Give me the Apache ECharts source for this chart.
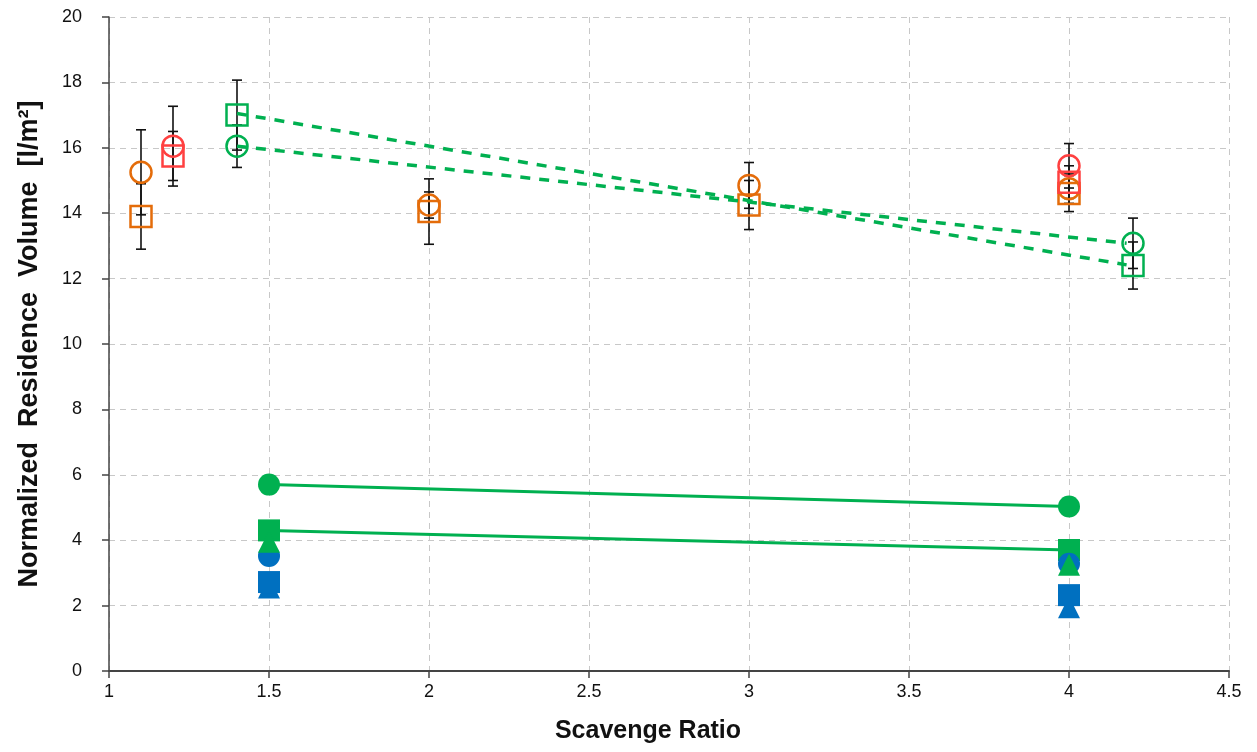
<!DOCTYPE html>
<html>
<head>
<meta charset="utf-8">
<script src="https://cdn.jsdelivr.net/npm/echarts@6/dist/echarts.min.js"></script>
<style>html,body{margin:0;padding:0;background:#fff;}#c{width:1257px;height:752px;}</style>
</head>
<body>
<div id="c"></div>
<script>
// ---- Data ----
// Hollow markers with error bars (x, y, +/- error)
const orangeCircleX = [1.1, 2, 3, 4];
const orangeCircleY = [15.25, 14.25, 14.85, 14.75];
const orangeCircleErr = [1.3, 0.4, 0.7, 0.45];

const orangeSquareX = [1.1, 2, 3, 4];
const orangeSquareY = [13.9, 14.05, 14.25, 14.6];
const orangeSquareErr = [1.0, 1.0, 0.75, 0.55];

const redCircleX = [1.2, 4];
const redCircleY = [16.05, 15.45];
const redCircleErr = [1.22, 0.68];

const redSquareX = [1.2, 4];
const redSquareY = [15.75, 14.95];
const redSquareErr = [0.75, 0.5];

const greenHollowCircleX = [1.4, 4.2];
const greenHollowCircleY = [16.05, 13.08];
const greenHollowCircleErr = [0.65, 0.77];

const greenHollowSquareX = [1.4, 4.2];
const greenHollowSquareY = [17.0, 12.4];
const greenHollowSquareErr = [1.07, 0.72];

// Dashed trend lines
const trendCircle = [[1.4, 16.05], [4.18, 13.08]];
const trendSquare = [[1.4, 17.05], [4.18, 12.42]];

// Filled markers
const filledX = [1.5, 4];
const greenCircleY = [5.7, 5.03];
const greenSquareY = [4.3, 3.7];
const greenTriangleY = [3.95, 3.25];
const blueCircleY = [3.52, 3.28];
const blueSquareY = [2.72, 2.32];
const blueTriangleY = [2.55, 1.95];

// Axis
const xMin = 1, xMax = 4.5, xStep = 0.5;
const yMin = 0, yMax = 20, yStep = 2;

// ---- Colors ----
const ORANGE = '#E46C0A';
const RED = '#FF4040';
const GREEN = '#00B050';
const BLUE = '#0070C0';

const pts = (xs, ys) => xs.map((x, i) => [x, ys[i]]);

function errSeries(xs, ys, errs) {
  return {
    type: 'custom',
    z: 2,
    silent: true,
    data: xs.map((x, i) => [x, ys[i] - errs[i], ys[i] + errs[i]]),
    encode: { x: 0, y: [1, 2] },
    renderItem: function (params, api) {
      const lo = api.coord([api.value(0), api.value(1)]);
      const hi = api.coord([api.value(0), api.value(2)]);
      const w = 5;
      const st = { stroke: '#111', lineWidth: 1.6 };
      return {
        type: 'group',
        children: [
          { type: 'line', shape: { x1: lo[0], y1: lo[1], x2: hi[0], y2: hi[1] }, style: st },
          { type: 'line', shape: { x1: lo[0] - w, y1: lo[1], x2: lo[0] + w, y2: lo[1] }, style: st },
          { type: 'line', shape: { x1: hi[0] - w, y1: hi[1], x2: hi[0] + w, y2: hi[1] }, style: st }
        ]
      };
    }
  };
}

function hollow(name, xs, ys, symbol, color, size) {
  return {
    name: name, type: 'scatter', z: 3, symbol: symbol, symbolSize: size,
    data: pts(xs, ys),
    itemStyle: { color: 'rgba(0,0,0,0)', borderColor: color, borderWidth: 2.5, opacity: 1 }
  };
}

function filled(name, ys, symbol, color, size, z) {
  return {
    name: name, type: 'scatter', z: z, symbol: symbol, symbolSize: size,
    data: pts(filledX, ys),
    itemStyle: { color: color, opacity: 1 }
  };
}

function line(name, data, color, dashed, z) {
  return {
    name: name, type: 'line', z: z, symbol: 'none', silent: true,
    data: data,
    lineStyle: { color: color, width: dashed ? 3.5 : 3, type: dashed ? [10, 9] : 'solid', opacity: 1 }
  };
}

const chart = echarts.init(document.getElementById('c'), null, { renderer: 'canvas' });

const series = [
  errSeries(orangeCircleX, orangeCircleY, orangeCircleErr),
  errSeries(orangeSquareX, orangeSquareY, orangeSquareErr),
  errSeries(redCircleX, redCircleY, redCircleErr),
  errSeries(redSquareX, redSquareY, redSquareErr),
  errSeries(greenHollowCircleX, greenHollowCircleY, greenHollowCircleErr),
  errSeries(greenHollowSquareX, greenHollowSquareY, greenHollowSquareErr),
  line('Trend circle', trendCircle, GREEN, true, 4),
  line('Trend square', trendSquare, GREEN, true, 4),
  hollow('Orange circle', orangeCircleX, orangeCircleY, 'circle', ORANGE, 21),
  hollow('Orange square', orangeSquareX, orangeSquareY, 'rect', ORANGE, 21),
  hollow('Red circle', redCircleX, redCircleY, 'circle', RED, 21),
  hollow('Red square', redSquareX, redSquareY, 'rect', RED, 21),
  hollow('Green circle (hollow)', greenHollowCircleX, greenHollowCircleY, 'circle', GREEN, 21),
  hollow('Green square (hollow)', greenHollowSquareX, greenHollowSquareY, 'rect', GREEN, 21),
  line('Green circle line', pts(filledX, greenCircleY), GREEN, false, 3),
  line('Green square line', pts(filledX, greenSquareY), GREEN, false, 3),
  filled('Blue triangle', blueTriangleY, 'triangle', BLUE, 22, 5),
  filled('Blue square', blueSquareY, 'rect', BLUE, 22, 6),
  filled('Green square', greenSquareY, 'rect', GREEN, 22, 7),
  filled('Blue circle', blueCircleY, 'circle', BLUE, 22, 8),
  filled('Green triangle', greenTriangleY, 'triangle', GREEN, 22, 9),
  filled('Green circle', greenCircleY, 'circle', GREEN, 22, 10)
];

const FONT = '"Liberation Sans", Arial, sans-serif';

chart.setOption({
  animation: false,
  backgroundColor: '#ffffff',
  grid: { left: 109, right: 28, top: 17, bottom: 81, containLabel: false },
  xAxis: {
    type: 'value', min: xMin, max: xMax, interval: xStep,
    name: 'Scavenge Ratio', nameLocation: 'middle', nameGap: 48,
    nameTextStyle: { fontFamily: FONT, fontWeight: 'bold', fontSize: 25, color: '#111', padding: [0, 42, 0, 0] },
    axisLine: { onZero: false, lineStyle: { color: '#444', width: 2 } },
    axisTick: { show: true, inside: false, length: 7, lineStyle: { color: '#444', width: 1.5 } },
    axisLabel: { margin: 12, fontFamily: FONT, fontSize: 18, color: '#111' },
    splitLine: { show: true, lineStyle: { color: '#c8c8c8', width: 1, type: [6, 5] } }
  },
  yAxis: {
    type: 'value', min: yMin, max: yMax, interval: yStep,
    name: 'Normalized  Residence  Volume  [l/m²]', nameLocation: 'middle', nameGap: 66, nameRotate: 90,
    nameTextStyle: { fontFamily: FONT, fontWeight: 'bold', fontSize: 27, color: '#111' },
    axisLine: { show: true, lineStyle: { color: '#444', width: 1.5 } },
    axisTick: { show: true, inside: false, length: 7, lineStyle: { color: '#444', width: 1.5 } },
    axisLabel: { margin: 27, fontFamily: FONT, fontSize: 18, color: '#111' },
    splitLine: { show: true, lineStyle: { color: '#c8c8c8', width: 1, type: [6, 5] } }
  },
  series: series
});
</script>
</body>
</html>
